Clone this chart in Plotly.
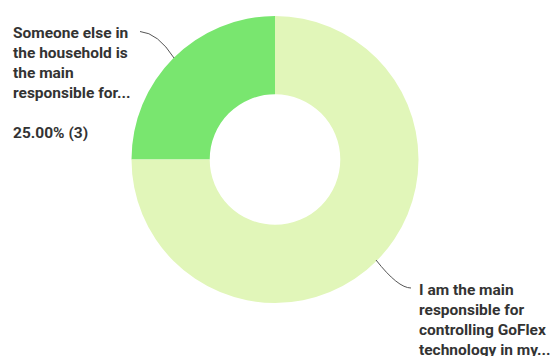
import plotly.graph_objects as go

# Survey responses
labels = [
    "Someone else in the household is the main responsible for...",
    "I am the main responsible for controlling GoFlex technology in my...",
]
counts = [3, 9]
colors = ["#79e66f", "#e1f6b9"]

W, H = 560, 356
total = sum(counts)


def px(x, y):
    """Convert pixel position to paper coordinates."""
    return x / W, 1 - y / H


fig = go.Figure(
    go.Pie(
        labels=labels,
        values=counts,
        hole=0.455,
        sort=False,
        direction="clockwise",
        rotation=270,
        textinfo="none",
        marker=dict(colors=colors, line=dict(width=0)),
        domain=dict(x=[131.5 / W, 418.5 / W], y=[53 / H, 340 / H]),
        showlegend=False,
        hoverinfo="label+percent",
    )
)

font = dict(family="Roboto, Arial, sans-serif", size=15.5, color="#333333")

# Label texts
top_lines = ["Someone else in", "the household is", "the main", "responsible for...", "",
             f"{counts[0] / total * 100:.2f}% ({counts[0]})"]
bot_lines = ["I am the main", "responsible for", "controlling GoFlex", "technology in my..."]

annotations = []
for i, t in enumerate(top_lines):
    if not t:
        continue
    x, y = px(11, 33 + 20 * i)
    annotations.append(dict(text=f"<b>{t}</b>", x=x, y=y, xref="paper", yref="paper",
                            xanchor="left", yanchor="middle", showarrow=False, font=font))
for i, t in enumerate(bot_lines):
    x, y = px(417, 290 + 20 * i)
    annotations.append(dict(text=f"<b>{t}</b>", x=x, y=y, xref="paper", yref="paper",
                            xanchor="left", yanchor="middle", showarrow=False, font=font))


def path(points):
    (x0, y0), (cx, cy), (x1, y1) = [px(*p) for p in points]
    return f"M {x0} {y0} Q {cx} {cy} {x1} {y1}"


shapes = [
    dict(type="path", xref="paper", yref="paper",
         path=path([(140, 31.5), (158, 33), (174, 58)]),
         line=dict(color="#555555", width=1)),
    dict(type="path", xref="paper", yref="paper",
         path=path([(376, 260), (398, 288), (411, 288)]),
         line=dict(color="#555555", width=1)),
]

fig.update_layout(
    width=W,
    height=H,
    margin=dict(l=0, r=0, t=0, b=0),
    paper_bgcolor="white",
    plot_bgcolor="white",
    annotations=annotations,
    shapes=shapes,
)

fig.write_html("out.html")
